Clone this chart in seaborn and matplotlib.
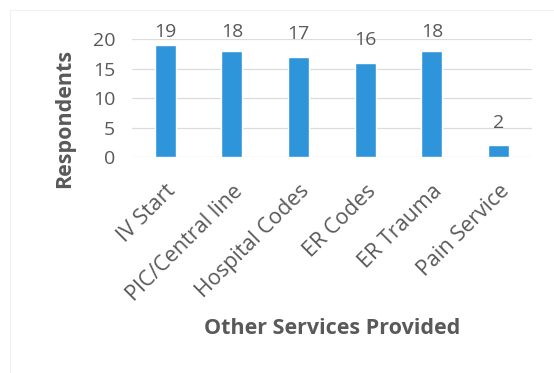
import matplotlib
matplotlib.use("Agg")
import matplotlib.pyplot as plt
import seaborn as sns
import pandas as pd
from matplotlib.lines import Line2D

services = ["IV Start", "PIC/Central line", "Hospital Codes", "ER Codes", "ER Trauma", "Pain Service"]
respondents = [19, 18, 17, 16, 18, 2]
y_ticks = [0, 5, 10, 15, 20]

sns.set_theme(style="white")
plt.rcParams["font.family"] = ["Open Sans", "DejaVu Sans"]
text_color = "#595959"

df = pd.DataFrame({"service": services, "count": respondents})

W, H = 554, 373
fig = plt.figure(figsize=(W / 100, H / 100), dpi=100)
ax = fig.add_axes([132 / W, 1 - 157.3 / H, (532 - 132) / W, (157.3 - 39) / H])

sns.barplot(data=df, x="service", y="count", color="#2F95DA", width=0.315,
            saturation=1, ax=ax, zorder=3)

ax.set_xlim(-0.5, len(services) - 0.5)
ax.set_ylim(0, 20)
ax.set_yticks(y_ticks)
ax.yaxis.grid(True, color="#DCDCDC", linewidth=0.9, zorder=0)
for s in ax.spines.values():
    s.set_visible(False)

ax.tick_params(axis="y", labelsize=14, labelcolor=text_color, length=0, pad=12)
ax.tick_params(axis="x", labelsize=15.5, labelcolor=text_color, length=0, pad=17)
plt.setp(ax.get_xticklabels(), rotation=45, ha="right", rotation_mode="anchor")

# value labels sit above each bar, held below the top of the plot area
for i, v in enumerate(respondents):
    ax.text(i, min(v + 3.0, 20.4), str(v), ha="center", va="baseline",
            fontsize=14, color=text_color, clip_on=False)

ax.set_xlabel("Other Services Provided", fontsize=15.5, fontweight="bold",
              color=text_color)
ax.xaxis.set_label_coords(0.5, (157.3 - 318) / (157.3 - 39))
ax.set_ylabel("Respondents", fontsize=15.5, fontweight="bold", color=text_color)
ax.yaxis.set_label_coords((75 - 132) / 400, (157.3 - 118) / (157.3 - 39))

# faint outline of the chart area
fig.add_artist(Line2D([10 / W, 10 / W], [0, 1 - 10 / H], transform=fig.transFigure,
                      color="#F0F0F0", linewidth=0.8))
fig.add_artist(Line2D([10 / W, 1], [1 - 10 / H, 1 - 10 / H], transform=fig.transFigure,
                      color="#F0F0F0", linewidth=0.8))

fig.savefig("out.png", dpi=100)
